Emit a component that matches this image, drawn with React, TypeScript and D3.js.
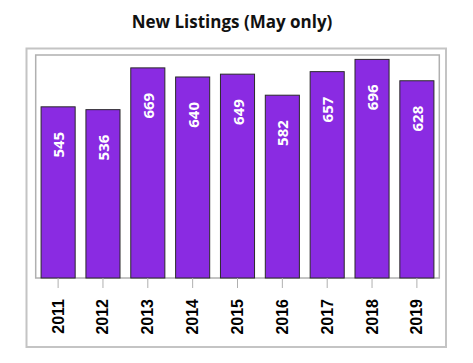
import React from "react";
import * as d3 from "d3";

const years = ["2011", "2012", "2013", "2014", "2015", "2016", "2017", "2018", "2019"];
const values = [545, 536, 669, 640, 649, 582, 657, 696, 628];
const title = "New Listings (May only)";

const W = 473;
const H = 363;
const plot = { left: 35.7, right: 439.3, top: 55, bottom: 278 };

export default function App() {
  const x = d3
    .scaleBand<string>()
    .domain(years)
    .range([plot.left, plot.right])
    .paddingInner(0.24)
    .paddingOuter(0.12);
  const y = d3.scaleLinear().domain([0, 710]).range([plot.bottom, plot.top]);

  return (
    <svg
      width={W}
      height={H}
      style={{ position: "absolute", left: 0, top: 0, background: "#fff" }}
    >
      <text
        x={232}
        y={28}
        textAnchor="middle"
        fontFamily="'Open Sans', sans-serif"
        fontWeight={700}
        fontSize={17}
        fill="#111"
      >
        {title}
      </text>
      <rect x={26.5} y={48.5} width={419.5} height={298.5} fill="#fff" stroke="#c4c4c4" strokeWidth={2} />
      <rect
        x={plot.left}
        y={plot.top}
        width={plot.right - plot.left}
        height={plot.bottom - plot.top}
        fill="#fff"
        stroke="#b0b0b0"
        strokeWidth={1.5}
      />
      {years.map((yr, i) => {
        const bx = x(yr)!;
        const top = y(values[i]);
        const cx = bx + x.bandwidth() / 2;
        return (
          <g key={yr}>
            <rect
              x={bx}
              y={top}
              width={x.bandwidth()}
              height={plot.bottom - top}
              fill="#8a2be2"
              stroke="#2a2a2a"
              strokeWidth={1}
            />
            <text
              transform={`translate(${cx},${top + 25}) rotate(-90)`}
              textAnchor="end"
              dominantBaseline="central"
              fontFamily="'Open Sans', sans-serif"
              fontWeight={700}
              fontSize={15}
              fill="#fff"
            >
              {values[i]}
            </text>
            <line x1={cx} x2={cx} y1={plot.bottom} y2={plot.bottom + 10} stroke="#b0b0b0" strokeWidth={1} />
            <text
              transform={`translate(${cx},${299}) rotate(-90)`}
              textAnchor="end"
              dominantBaseline="central"
              fontFamily="'Liberation Sans', Arial, sans-serif"
              fontWeight={700}
              fontSize={16}
              fill="#000"
            >
              {yr}
            </text>
          </g>
        );
      })}
    </svg>
  );
}
